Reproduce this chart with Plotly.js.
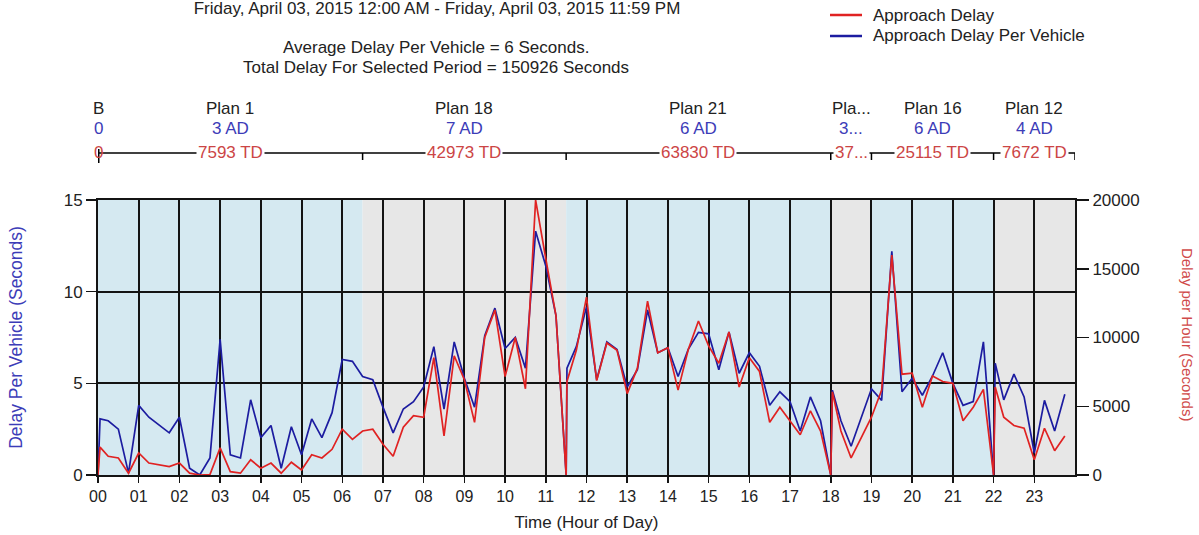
<!DOCTYPE html>
<html>
<head>
<meta charset="utf-8">
<script src="https://cdn.plot.ly/plotly-3.0.1.min.js"></script>
<style>html,body{margin:0;padding:0;background:#fff;}#chart{width:1199px;height:535px;}</style>
</head>
<body>
<div id="chart"></div>
<script>
// ---- data ----
const times = [0, 0.05, 0.25, 0.5, 0.75,
  1, 1.25, 1.5, 1.75, 2, 2.25, 2.5, 2.75, 3, 3.25, 3.5, 3.75, 4, 4.25, 4.5, 4.75,
  5, 5.25, 5.5, 5.75, 6, 6.25, 6.5, 6.75, 7, 7.25, 7.5, 7.75, 8, 8.25, 8.5, 8.75,
  9, 9.25, 9.5, 9.75, 10, 10.25, 10.5, 10.75, 11, 11.25,
  11.5, 11.52, 11.75,
  12, 12.25, 12.5, 12.75, 13, 13.25, 13.5, 13.75, 14, 14.25, 14.5, 14.75,
  15, 15.25, 15.5, 15.75, 16, 16.25, 16.5, 16.75, 17, 17.25, 17.5, 17.75,
  18, 18.04, 18.25, 18.5, 18.75,
  19, 19.25, 19.5, 19.75, 20, 20.25, 20.5, 20.75, 21, 21.25, 21.5, 21.75,
  22, 22.04, 22.25, 22.5, 22.75,
  23, 23.25, 23.5, 23.75];

const delayPerVehicle = [0, 3.06, 2.96, 2.5, 0.1,
  3.8, 3.15, 2.7, 2.3, 3.15, 0.37, 0, 0.93, 7.4, 1.1, 0.93, 4.1, 2.04, 2.7, 0.37, 2.63,
  1.1, 3.06, 2.04, 3.4, 6.3, 6.2, 5.37, 5.2, 3.7, 2.3, 3.6, 4.0, 4.8, 7.0, 3.6, 7.26,
  5.28, 3.7, 7.6, 9.1, 6.9, 7.5, 5.83, 13.3, 11.4, 8.7,
  0, 5.83, 7.0,
  9.17, 5.2, 7.26, 6.85, 4.8, 5.74, 9.0, 6.67, 6.94, 5.37, 6.85, 7.78,
  7.7, 5.74, 7.8, 5.55, 6.67, 5.93, 3.8, 4.54, 4.0, 2.4, 4.26, 2.96,
  0, 4.63, 2.96, 1.57, 3.15,
  4.7, 4.07, 12.2, 4.54, 5.28, 4.35, 5.4, 6.67, 5.0, 3.8, 4.0, 7.26,
  0, 6.1, 4.1, 5.5, 4.26,
  1.2, 4.07, 2.4, 4.4];

const approachDelay = [0, 2030, 1360, 1240, 130,
  1600, 870, 750, 610, 870, 130, 0, 30, 1970, 240, 130, 1110, 490, 870, 130, 930,
  370, 1470, 1240, 1870, 3330, 2590, 3200, 3330, 2230, 1360, 3470, 4320, 4200, 8530, 2840, 8670,
  6930, 3830, 10000, 12000, 7160, 10000, 6270, 20000, 15730, 11600,
  0, 6800, 9070,
  12930, 6870, 9600, 9070, 5920, 7770, 12640, 8890, 9250, 6170, 9130, 11200,
  9390, 8130, 10400, 6400, 8530, 7530, 3830, 4930, 3950, 2930, 4670, 3200,
  0, 6050, 3200, 1240, 2720,
  4200, 6170, 16000, 7330, 7400, 4930, 7200, 6800, 6670, 3950, 4930, 6230,
  0, 6400, 4200, 3600, 3400,
  1110, 3400, 1770, 2840];

const hourTicks = [0,1,2,3,4,5,6,7,8,9,10,11,12,13,14,15,16,17,18,19,20,21,22,23];
const hourLabels = ["00","01","02","03","04","05","06","07","08","09","10","11","12","13","14","15","16","17","18","19","20","21","22","23"];
const leftTicks = [0, 5, 10, 15];
const rightTicks = [0, 5000, 10000, 15000, 20000];
const rightLabels = ["0", "5000", "10000", "15000", "20000"];

const planNames = ["B", "Plan 1", "Plan 18", "Plan 21", "Pla...", "Plan 16", "Plan 12"];
const planStarts = [0, 0, 6.5, 11.5, 18, 19, 22];
const planEnds   = [0, 6.5, 11.5, 18, 19, 22, 24];
const planAD = ["0", "3 AD", "7 AD", "6 AD", "3...", "6 AD", "4 AD"];
const planTD = ["0", "7593 TD", "42973 TD", "63830 TD", "37...", "25115 TD", "7672 TD"];

const seriesNames = ["Approach Delay", "Approach Delay Per Vehicle"];
const titleLine = "Friday, April 03, 2015 12:00 AM - Friday, April 03, 2015 11:59 PM";
const statLines = ["Average Delay Per Vehicle = 6 Seconds.", "Total Delay For Selected Period = 150926 Seconds"];

// ---- geometry helpers (plot area pixels) ----
const W = 1199, H = 535;
const L = 98, R = 1075, T = 200, B = 475;
const py = p => (B - p) / (B - T);
const px = p => (p - L) / (R - L);

const FONT = "Liberation Sans, Arial, sans-serif";
const BLUE = "#1c1ca0", RED = "#e02222";
const BG_BLUE = "#d5e9f1", BG_GRAY = "#e7e7e7";
const GRID = "#141414";
const TXT = "#222";

const shapes = [];
const annotations = [];

// plan shading
planNames.forEach((n, i) => {
  if (planEnds[i] > planStarts[i]) {
    shapes.push({type: "rect", xref: "x", yref: "paper", x0: planStarts[i], x1: planEnds[i], y0: 0, y1: 1,
      fillcolor: (i % 2 === 1) ? BG_BLUE : BG_GRAY, line: {width: 0}, layer: "below"});
  }
});

// plan bracket line
const lineY = py(153), tickY = py(160);
shapes.push({type: "line", xref: "x", yref: "paper", x0: planStarts[0], x1: planEnds[planEnds.length - 1],
  y0: lineY, y1: lineY, line: {color: "#000", width: 1.5}});
const bounds = Array.from(new Set(planStarts.concat(planEnds)));
bounds.forEach(b => {
  shapes.push({type: "line", xref: "x", yref: "paper", x0: b, x1: b, y0: lineY, y1: tickY, line: {color: "#000", width: 1.5}});
});
shapes.push({type: "line", xref: "x", yref: "paper", x0: planStarts[0], x1: planStarts[0], y0: py(149), y1: py(163), line: {color: "#000", width: 3}});

planNames.forEach((n, i) => {
  const mid = (planStarts[i] + planEnds[i]) / 2;
  annotations.push({xref: "x", yref: "paper", x: mid, y: py(108), text: n, showarrow: false,
    font: {family: FONT, size: 17, color: TXT}, xanchor: "center", yanchor: "middle"});
  annotations.push({xref: "x", yref: "paper", x: mid, y: py(129), text: planAD[i], showarrow: false,
    font: {family: FONT, size: 17, color: "#3c3cb8"}, xanchor: "center", yanchor: "middle"});
  annotations.push({xref: "x", yref: "paper", x: mid, y: py(152), text: planTD[i], showarrow: false,
    font: {family: FONT, size: 17, color: "#cc4545"}, xanchor: "center", yanchor: "middle",
    bgcolor: (i === 0) ? "rgba(0,0,0,0)" : "#ffffff", borderpad: 1});
});

// stat lines
statLines.forEach((s, i) => {
  annotations.push({xref: "paper", yref: "paper", x: px(436), y: py(47 + 20 * i), text: s, showarrow: false,
    font: {family: FONT, size: 17, color: TXT}, xanchor: "center", yanchor: "middle"});
});

// legend (drawn manually to match placement)
const legendColors = [RED, BLUE];
seriesNames.forEach((s, i) => {
  const yy = py(15 + 21 * i);
  shapes.push({type: "line", xref: "paper", yref: "paper", x0: px(830), x1: px(862), y0: yy, y1: yy,
    line: {color: legendColors[i], width: 2.5}});
  annotations.push({xref: "paper", yref: "paper", x: px(871), y: yy, text: s, showarrow: false,
    font: {family: FONT, size: 17, color: TXT}, xanchor: "left", yanchor: "middle"});
});

// right axis title (reads top to bottom)
annotations.push({xref: "paper", yref: "paper", x: px(1188), y: py(334), text: "Delay per Hour (Seconds)", showarrow: false,
  textangle: 90, font: {family: FONT, size: 15, color: "#d04a4a"}, xanchor: "center", yanchor: "middle"});

const traces = [
  {x: times, y: approachDelay, name: seriesNames[0], type: "scatter", mode: "lines",
   line: {color: RED, width: 1.7}, yaxis: "y2", xaxis: "x", hoverinfo: "skip", showlegend: false},
  {x: times, y: delayPerVehicle, name: seriesNames[1], type: "scatter", mode: "lines",
   line: {color: BLUE, width: 1.7}, yaxis: "y", xaxis: "x", hoverinfo: "skip", showlegend: false}
];

const layout = {
  width: W, height: H,
  margin: {l: L, r: W - R, t: T, b: H - B, pad: 0, autoexpand: false},
  paper_bgcolor: "#ffffff", plot_bgcolor: "#ffffff",
  font: {family: FONT, size: 16, color: TXT},
  title: {text: titleLine, x: 437 / W, xanchor: "center", y: 1 - 8 / H, yanchor: "middle",
    xref: "container", yref: "container", font: {family: FONT, size: 17, color: TXT}},
  showlegend: false,
  xaxis: {range: [0, 24], tickmode: "array", tickvals: hourTicks, ticktext: hourLabels,
    showgrid: true, gridcolor: GRID, gridwidth: 2, zeroline: false,
    showline: true, linecolor: GRID, linewidth: 2, mirror: true,
    ticks: "outside", ticklen: 6, tickwidth: 1.5, tickcolor: GRID,
    tickfont: {family: FONT, size: 16, color: TXT},
    title: {text: "Time (Hour of Day)", font: {family: FONT, size: 17, color: TXT}, standoff: 12}},
  xaxis2: {range: [0, 24], overlaying: "x", side: "top", anchor: "y", tickmode: "array",
    tickvals: hourTicks, ticktext: hourLabels, showgrid: false, zeroline: false,
    ticks: "outside", ticklen: 5, tickwidth: 1.5, tickcolor: GRID,
    tickfont: {family: FONT, size: 16, color: TXT}},
  yaxis: {range: [0, 15], tickmode: "array", tickvals: leftTicks,
    showgrid: true, gridcolor: GRID, gridwidth: 2, zeroline: false,
    showline: true, linecolor: GRID, linewidth: 2, mirror: true,
    ticks: "outside", ticklen: 10, tickwidth: 1.5, tickcolor: GRID,
    tickfont: {family: FONT, size: 17, color: TXT},
    title: {text: "Delay Per Vehicle (Seconds)", font: {family: FONT, size: 17.5, color: "#3c3cb8"}, standoff: 37}},
  yaxis2: {range: [0, 20000], overlaying: "y", side: "right", anchor: "x", tickmode: "array",
    tickvals: rightTicks, ticktext: rightLabels,
    showgrid: false, zeroline: false, showline: true, linecolor: GRID, linewidth: 2,
    ticks: "outside", ticklen: 12, tickwidth: 1.5, tickcolor: GRID,
    tickfont: {family: FONT, size: 17, color: TXT}},
  shapes: shapes,
  annotations: annotations
};

Plotly.newPlot("chart", traces, layout, {staticPlot: true, displayModeBar: false});
</script>
</body>
</html>
